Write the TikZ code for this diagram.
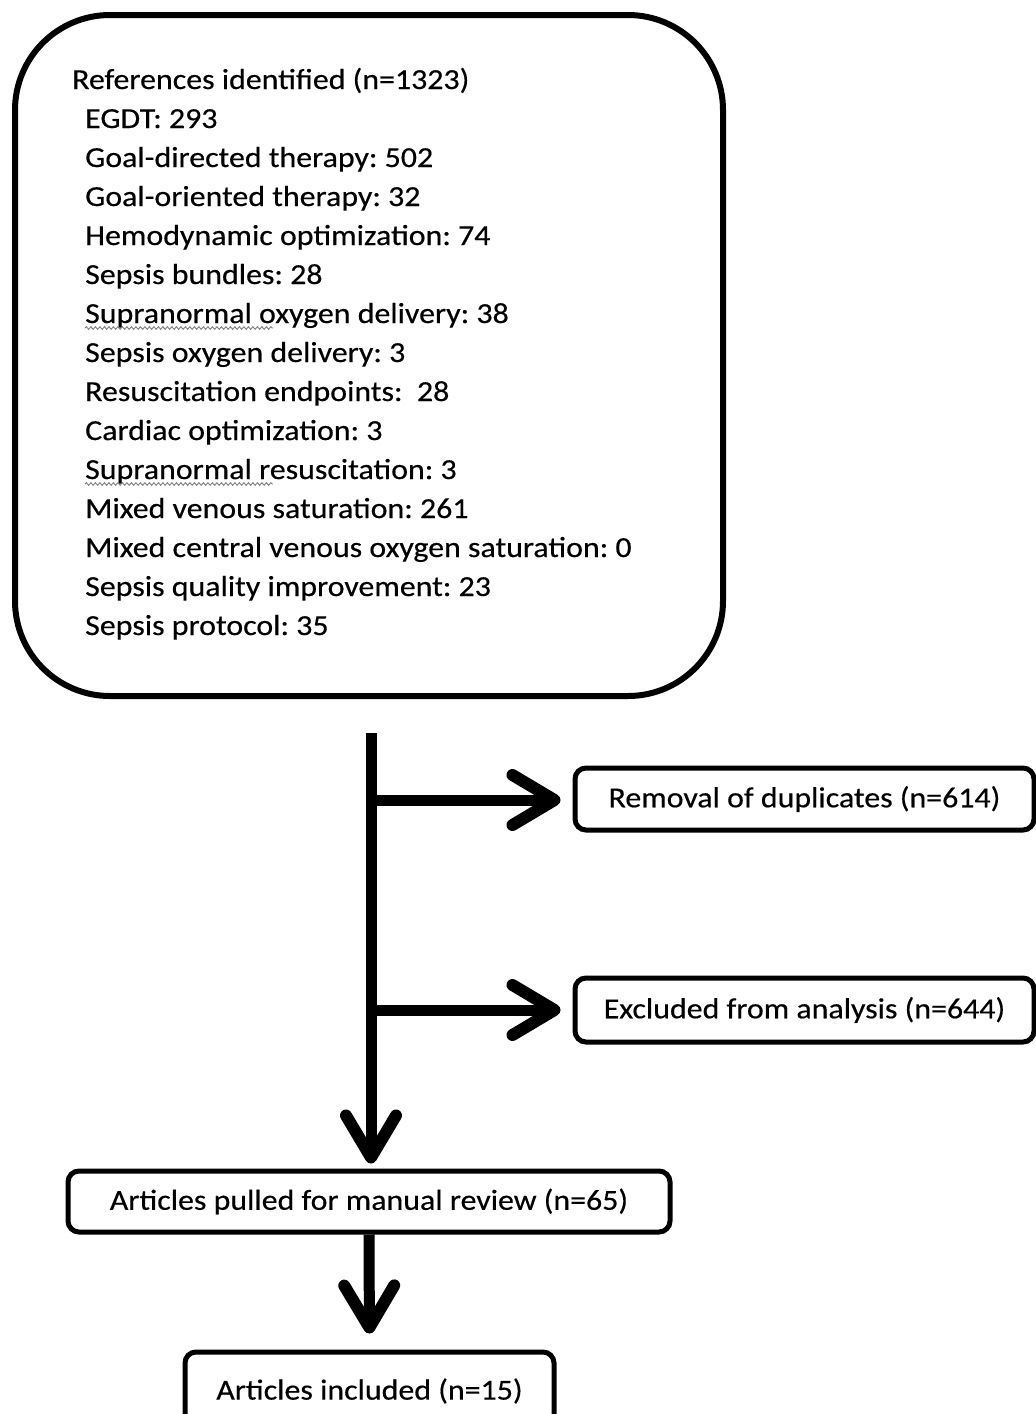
\documentclass[tikz,border=0pt]{standalone}
\usepackage{fontspec}
\setmainfont{Carlito}[FakeStretch=1.1, FakeBold=0.4]
\usetikzlibrary{arrows.meta,decorations.pathmorphing}
\begin{document}
\frenchspacing
\begin{tikzpicture}[x=1pt,y=-1pt,
  txt/.style={font=\fontsize{29}{35}\selectfont, inner sep=0pt, anchor=base west},
  smallbox/.style={draw, line width=5pt, rounded corners=11pt, inner sep=0pt, font=\fontsize{29}{35}\selectfont},
  flow/.style={line width=11pt, -{Straight Barb[length=42pt,width=50pt,line width=12pt,round]}},
  squiggle/.style={draw=gray, line width=0.9pt, decorate, decoration={snake, amplitude=1.3pt, segment length=4.5pt}}]
\useasboundingbox (0,0) rectangle (1036,1414);
\fill[white] (0,0) rectangle (1036,1414);

% top box
\node[draw, line width=6pt, rounded corners=95pt, minimum width=708pt, minimum height=681pt, inner sep=0pt] (refbox) at (369,355.5) {};
\node[txt] (head) at (72,89) {References identified (n=1323)};
\foreach \t [count=\i] in {EGDT: 293, Goal-directed therapy: 502, Goal-oriented therapy: 32,
  Hemodynamic optimization: 74, Sepsis bundles: 28, Supranormal oxygen delivery: 38,
  Sepsis oxygen delivery: 3, Resuscitation endpoints:\ \ 28, Cardiac optimization: 3,
  Supranormal resuscitation: 3, Mixed venous saturation: 261,
  Mixed central venous oxygen saturation: 0, Sepsis quality improvement: 23,
  Sepsis protocol: 35}
  \node[txt] (item\i) at (85,89+39*\i) {\t};
\draw[squiggle] ([yshift=-5pt]item6.base west) -- ++(188,0);
\draw[squiggle] ([yshift=-5pt]item10.base west) -- ++(188,0);

% side boxes
\node[smallbox, minimum width=459pt, minimum height=62pt] (removal) at (804.5,799) {Removal of duplicates (n=614)};
\node[smallbox, minimum width=459pt, minimum height=64pt] (excluded) at (804.5,1010) {Excluded from analysis (n=644)};
\node[smallbox, minimum width=602pt, minimum height=61pt] (pulled) at (369,1201.5) {Articles pulled for manual review (n=65)};
\node[smallbox, minimum width=369pt, minimum height=78pt] (included) at (369.5,1391) {Articles included (n=15)};

% connectors
\coordinate (t0) at (371,733);
\coordinate (j1) at (371,800);
\coordinate (j2) at (371,1010);
\draw[flow, shorten >=5pt] (t0) -- (t0 |- pulled.north);
\draw[flow, shorten >=12pt] (j1) -- (j1 -| removal.west);
\draw[flow, shorten >=12pt] (j2) -- (j2 -| excluded.west);
\draw[flow, shorten >=16pt] (pulled.south) -- (included.north);
\end{tikzpicture}
\end{document}
